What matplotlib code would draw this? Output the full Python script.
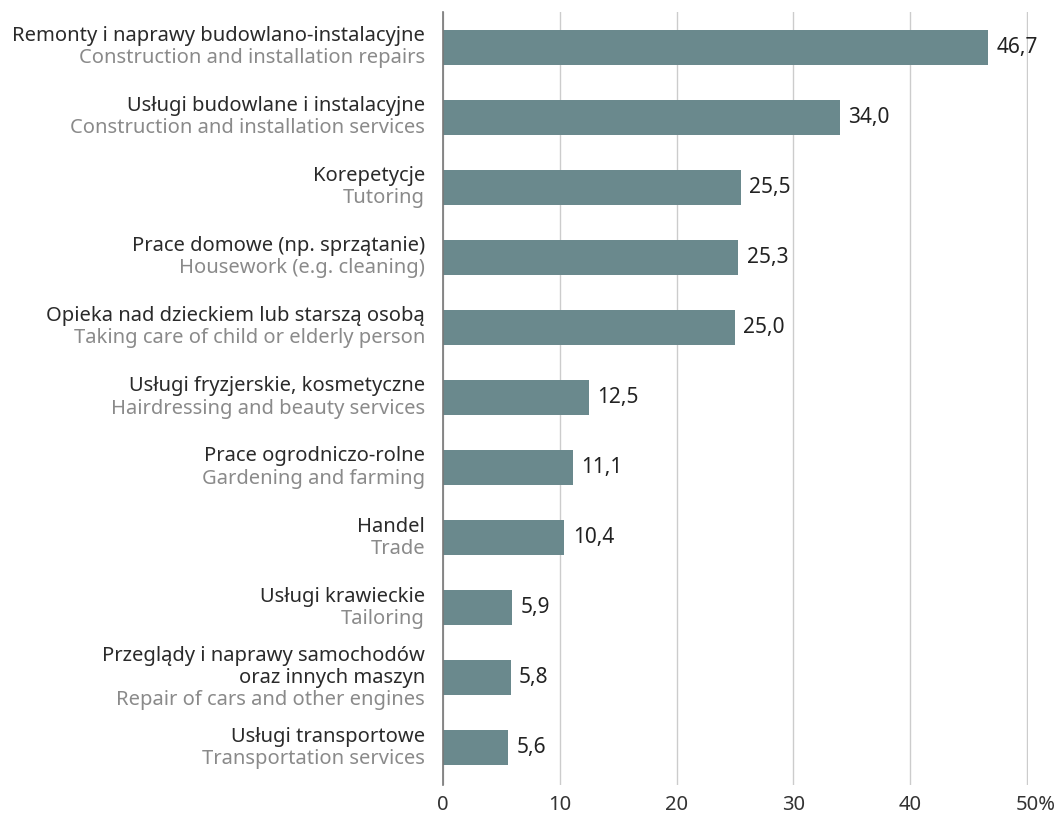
import matplotlib
matplotlib.use("Agg")
import matplotlib.pyplot as plt
from matplotlib.transforms import ScaledTranslation, blended_transform_factory

plt.rcParams['font.family'] = ['Noto Sans', 'DejaVu Sans']

labels_pl = [
    ["Remonty i naprawy budowlano-instalacyjne"],
    ["Usługi budowlane i instalacyjne"],
    ["Korepetycje"],
    ["Prace domowe (np. sprzątanie)"],
    ["Opieka nad dzieckiem lub starszą osobą"],
    ["Usługi fryzjerskie, kosmetyczne"],
    ["Prace ogrodniczo-rolne"],
    ["Handel"],
    ["Usługi krawieckie"],
    ["Przeglądy i naprawy samochodów", "oraz innych maszyn"],
    ["Usługi transportowe"],
]
labels_en = [
    "Construction and installation repairs",
    "Construction and installation services",
    "Tutoring",
    "Housework (e.g. cleaning)",
    "Taking care of child or elderly person",
    "Hairdressing and beauty services",
    "Gardening and farming",
    "Trade",
    "Tailoring",
    "Repair of cars and other engines",
    "Transportation services",
]
values = [46.7, 34.0, 25.5, 25.3, 25.0, 12.5, 11.1, 10.4, 5.9, 5.8, 5.6]
xticks = [0, 10, 20, 30, 40, 50]
xticklabels = ["0", "10", "20", "30", "40", "50%"]

bar_color = "#6a898d"
fig = plt.figure(figsize=(10.59, 8.13), dpi=100)
ax = fig.add_axes([443/1059, 1-785/813, (1028-443)/1059, (785-12)/813])

ypos = list(range(len(values)))
ax.barh(ypos, values, height=0.5, color=bar_color, zorder=2)
ax.set_ylim(10.53, -0.5)
ax.set_xlim(0, 50.1)
ax.set_xticks(xticks)
ax.set_xticklabels(xticklabels, fontsize=14.5, color="#333333")
ax.set_yticks([])
ax.tick_params(axis='x', length=0, pad=7)
for s in ['top', 'right', 'bottom']:
    ax.spines[s].set_visible(False)
ax.spines['left'].set_color("#777777")
ax.spines['left'].set_linewidth(1.2)
ax.spines['left'].set_zorder(3)
ax.grid(axis='x', color="#cccccc", linewidth=1.0, zorder=0)
ax.set_axisbelow(True)

last = ax.get_xticklabels()[-1]
last.set_transform(last.get_transform() + ScaledTranslation(0.09, 0, fig.dpi_scale_trans))

for y, v in zip(ypos, values):
    ax.annotate(f"{v:.1f}".replace(".", ","), xy=(v, y), xytext=(6, 0),
                textcoords="offset points", ha="left", va="center",
                fontsize=15, color="#222222")

trans = blended_transform_factory(ax.transAxes, ax.transData)
line_h = 16  # points
for y, pl, en in zip(ypos, labels_pl, labels_en):
    lines = [(t, "#2a2a2a") for t in pl] + [(en, "#8a8a8a")]
    n = len(lines)
    for i, (t, c) in enumerate(lines):
        off = ((n - 1) / 2 - i) * line_h
        ax.annotate(t, xy=(0, y), xycoords=trans, xytext=(-13, off),
                    textcoords="offset points", ha="right", va="center",
                    fontsize=14.5, color=c)

fig.savefig("out.png", dpi=100)
